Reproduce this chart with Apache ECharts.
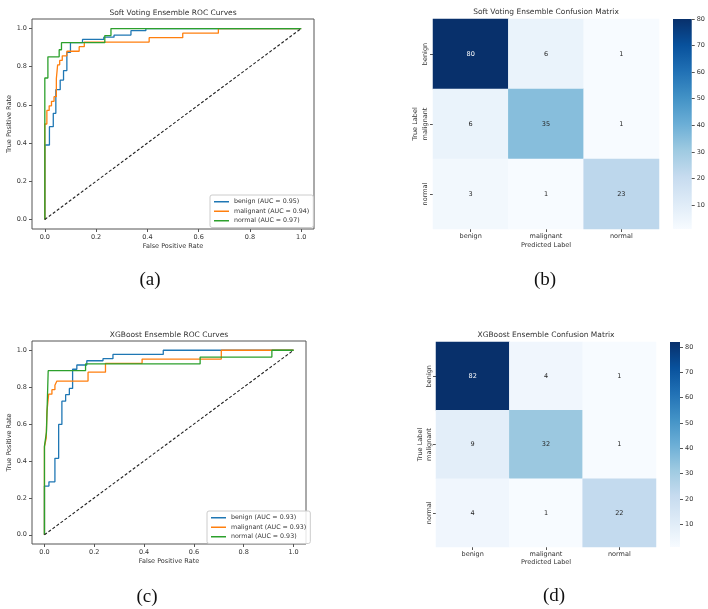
<!DOCTYPE html>
<html>
<head>
<meta charset="utf-8">
<script src="https://cdn.jsdelivr.net/npm/echarts@6/dist/echarts.min.js"></script>
<style>
  html, body { margin: 0; padding: 0; background: #fff; }
  #main { width: 708px; height: 609px; }
</style>
</head>
<body>
<div id="main"></div>
<script>
// ROC curves, corner points [FPR, TPR]
const softBenign = [[0,0],[0,0.39],[0.018,0.39],[0.018,0.486],[0.033,0.486],[0.033,0.556],[0.043,0.556],[0.043,0.68],[0.06,0.68],[0.06,0.73],[0.073,0.73],[0.073,0.78],[0.086,0.78],[0.086,0.875],[0.1,0.875],[0.1,0.926],[0.147,0.926],[0.147,0.943],[0.23,0.943],[0.23,0.955],[0.27,0.955],[0.27,0.966],[0.336,0.966],[0.336,0.989],[0.394,0.989],[0.394,1],[1,1]]
const softMalignant = [[0,0],[0,0.5],[0.008,0.5],[0.008,0.571],[0.017,0.571],[0.017,0.595],[0.026,0.595],[0.026,0.619],[0.036,0.619],[0.036,0.643],[0.045,0.643],[0.045,0.738],[0.05,0.738],[0.05,0.81],[0.058,0.81],[0.058,0.833],[0.068,0.833],[0.068,0.857],[0.086,0.857],[0.086,0.881],[0.134,0.881],[0.134,0.905],[0.154,0.905],[0.154,0.929],[0.407,0.929],[0.407,0.952],[0.538,0.952],[0.538,0.976],[0.677,0.976],[0.677,1],[1,1]]
const softNormal = [[0,0],[0,0.741],[0.012,0.741],[0.012,0.852],[0.056,0.852],[0.056,0.889],[0.065,0.889],[0.065,0.926],[0.234,0.926],[0.234,0.963],[0.258,0.963],[0.258,1],[1,1]]

const xgbBenign = [[0,0],[0,0.264],[0.018,0.264],[0.018,0.287],[0.042,0.287],[0.042,0.414],[0.057,0.414],[0.057,0.598],[0.07,0.598],[0.07,0.724],[0.085,0.724],[0.085,0.759],[0.1,0.759],[0.1,0.793],[0.113,0.793],[0.113,0.897],[0.13,0.897],[0.13,0.92],[0.17,0.92],[0.17,0.943],[0.235,0.943],[0.235,0.954],[0.275,0.954],[0.275,0.977],[0.477,0.977],[0.477,1],[1,1]]
const xgbMalignant = [[0,0],[0,0.476],[0.007,0.476],[0.007,0.524],[0.01,0.524],[0.01,0.667],[0.017,0.667],[0.017,0.762],[0.03,0.762],[0.03,0.786],[0.042,0.786],[0.042,0.81],[0.05,0.81],[0.05,0.833],[0.175,0.833],[0.175,0.881],[0.245,0.881],[0.245,0.929],[0.392,0.929],[0.392,0.952],[0.71,0.952],[0.71,1],[1,1]]
const xgbNormal = [[0,0],[0,0.48],[0.008,0.48],[0.008,0.556],[0.015,0.556],[0.015,0.889],[0.165,0.889],[0.165,0.926],[0.625,0.926],[0.625,0.963],[0.913,0.963],[0.913,1],[1,1]]

const chanceLine = [[0, 0], [1, 1]]
const classNames = ['benign', 'malignant', 'normal']
const softAuc = [0.95, 0.94, 0.97]
const xgbAuc = [0.93, 0.93, 0.93]
const rateTicks = [0, 0.2, 0.4, 0.6, 0.8, 1.0]

// confusion matrices, rows = true label, cols = predicted label
const softMatrix = [[80, 6, 1], [6, 35, 1], [3, 1, 23]]
const xgbMatrix = [[82, 4, 1], [9, 32, 1], [4, 1, 22]]
const cbarTicks = [10, 20, 30, 40, 50, 60, 70, 80]

const blues = ['#f7fbff', '#deebf7', '#c6dbef', '#9ecae1', '#6baed6', '#4292c6', '#2171b5', '#08519c', '#08306b']
const lineColors = ['#1f77b4', '#ff7f0e', '#2ca02c']
const FONT = 'DejaVu Sans'
const TXT = '#333'

const chart = echarts.init(document.getElementById('main'))

function cbarGradient () {
  return {
    type: 'linear', x: 0, y: 1, x2: 0, y2: 0,
    colorStops: blues.map((c, i) => ({ offset: i / (blues.length - 1), color: c }))
  }
}

function rateAxis (gridIndex, isY) {
  const ax = {
    type: 'value', gridIndex: gridIndex, min: -0.05, max: 1.05,
    name: isY ? 'True Positive Rate' : 'False Positive Rate',
    nameLocation: 'middle', nameGap: isY ? 18 : 14,
    nameTextStyle: { fontSize: 6.5, color: TXT, fontFamily: FONT },
    axisLine: { show: false, onZero: false },
    axisTick: { show: true, length: 3, customValues: rateTicks, lineStyle: { color: '#555' } },
    axisLabel: { customValues: rateTicks, formatter: v => v.toFixed(1), fontSize: 6.5, color: TXT, fontFamily: FONT, margin: 5 },
    splitLine: { show: false }
  }
  if (isY) ax.nameRotate = 90
  return ax
}

function catAxis (gridIndex, isY, gap, margin) {
  const ax = {
    type: 'category', gridIndex: gridIndex, data: classNames,
    name: isY ? 'True Label' : 'Predicted Label',
    nameLocation: 'middle', nameGap: gap,
    nameTextStyle: { fontSize: 6.5, color: TXT, fontFamily: FONT },
    axisLine: { show: false, onZero: false },
    axisTick: { show: true, length: 3, alignWithLabel: true, lineStyle: { color: '#555' } },
    axisLabel: { fontSize: 6.5, color: TXT, fontFamily: FONT, margin: margin },
    splitLine: { show: false }, splitArea: { show: false }
  }
  if (isY) {
    ax.inverse = true
    ax.nameRotate = 90
    ax.axisLabel.rotate = 90
  }
  return ax
}

function cbarAxis (gridIndex, max) {
  return {
    type: 'value', gridIndex: gridIndex, position: 'right', min: 1, max: max,
    axisLine: { show: false, onZero: false },
    axisTick: { show: true, length: 3, customValues: cbarTicks, lineStyle: { color: '#555' } },
    axisLabel: { customValues: cbarTicks, fontSize: 6.5, color: TXT, fontFamily: FONT, margin: 5 },
    splitLine: { show: false }
  }
}

function rocSeries (axisIdx, curves, aucs) {
  const out = curves.map((pts, i) => ({
    name: classNames[i] + ' (AUC = ' + aucs[i].toFixed(2) + ')',
    type: 'line', xAxisIndex: axisIdx, yAxisIndex: axisIdx,
    data: pts, symbol: 'none', silent: true,
    lineStyle: { color: lineColors[i], width: 1.3 },
    itemStyle: { color: lineColors[i] }
  }))
  out.push({
    type: 'line', xAxisIndex: axisIdx, yAxisIndex: axisIdx,
    data: chanceLine, symbol: 'none', silent: true,
    lineStyle: { color: '#222', width: 1.1, type: [3, 2] }
  })
  return out
}

function heatSeries (axisIdx, matrix) {
  const cells = []
  matrix.forEach((row, r) => row.forEach((v, c) => {
    cells.push({ value: [c, r, v], label: { color: v > 60 ? '#fff' : '#262626' } })
  }))
  return {
    type: 'heatmap', xAxisIndex: axisIdx, yAxisIndex: axisIdx, data: cells,
    label: { show: true, fontSize: 6.5, fontFamily: FONT, formatter: p => p.value[2] }
  }
}

function legendFor (aucs, left, top) {
  return {
    data: classNames.map((n, i) => n + ' (AUC = ' + aucs[i].toFixed(2) + ')'),
    orient: 'vertical', left: left, top: top,
    icon: 'rect', itemWidth: 15, itemHeight: 1.5, itemGap: 2,
    padding: [3, 4, 3, 4],
    borderColor: '#ccc', borderWidth: 1, borderRadius: 2,
    backgroundColor: 'rgba(255,255,255,0.85)',
    selectedMode: false,
    textStyle: { fontSize: 6.3, color: TXT, fontFamily: FONT, lineHeight: 7.5 }
  }
}

function titleAt (text, x, y, size, family) {
  return {
    text: text, left: x, top: y, textAlign: 'center', padding: 0,
    textStyle: { fontSize: size, fontWeight: 'normal', color: size > 10 ? '#111' : TXT, fontFamily: family }
  }
}

const series = []
  .concat(rocSeries(0, [softBenign, softMalignant, softNormal], softAuc))
  .concat([heatSeries(1, softMatrix)])
  .concat(rocSeries(3, [xgbBenign, xgbMalignant, xgbNormal], xgbAuc))
  .concat([heatSeries(4, xgbMatrix)])

const option = {
  animation: false,
  backgroundColor: '#fff',
  title: [
    titleAt('Soft Voting Ensemble ROC Curves', 173, 9, 7.5, FONT),
    titleAt('Soft Voting Ensemble Confusion Matrix', 546, 8, 7.5, FONT),
    titleAt('XGBoost Ensemble ROC Curves', 169, 331, 7.5, FONT),
    titleAt('XGBoost Ensemble Confusion Matrix', 546, 331, 7.5, FONT),
    titleAt('(a)', 150, 271, 19, 'Liberation Serif'),
    titleAt('(b)', 545, 271, 19, 'Liberation Serif'),
    titleAt('(c)', 147, 588, 19, 'Liberation Serif'),
    titleAt('(d)', 554, 587, 19, 'Liberation Serif')
  ],
  legend: [legendFor(softAuc, 210, 195), legendFor(xgbAuc, 207, 511)],
  grid: [
    { left: 32, top: 19, width: 282, height: 210, show: true, borderColor: '#555', borderWidth: 1, backgroundColor: 'transparent' },
    { left: 433, top: 19, width: 226, height: 210 },
    { left: 673, top: 19, width: 20, height: 210, show: true, borderWidth: 0, backgroundColor: cbarGradient() },
    { left: 32, top: 341, width: 274, height: 203, show: true, borderColor: '#555', borderWidth: 1, backgroundColor: 'transparent' },
    { left: 436, top: 342, width: 220, height: 205 },
    { left: 670, top: 342, width: 10, height: 205, show: true, borderWidth: 0, backgroundColor: cbarGradient() }
  ],
  xAxis: [
    rateAxis(0, false),
    catAxis(1, false, 13, 4),
    { type: 'value', gridIndex: 2, show: false },
    rateAxis(3, false),
    catAxis(4, false, 12, 4),
    { type: 'value', gridIndex: 5, show: false }
  ],
  yAxis: [
    rateAxis(0, true),
    catAxis(1, true, 14, 4),
    cbarAxis(2, 80),
    rateAxis(3, true),
    catAxis(4, true, 12, 3),
    cbarAxis(5, 82)
  ],
  visualMap: [
    { type: 'continuous', min: 1, max: 80, seriesIndex: 4, show: false, inRange: { color: blues } },
    { type: 'continuous', min: 1, max: 82, seriesIndex: 9, show: false, inRange: { color: blues } }
  ],
  series: series
}

chart.setOption(option)
</script>
</body>
</html>
